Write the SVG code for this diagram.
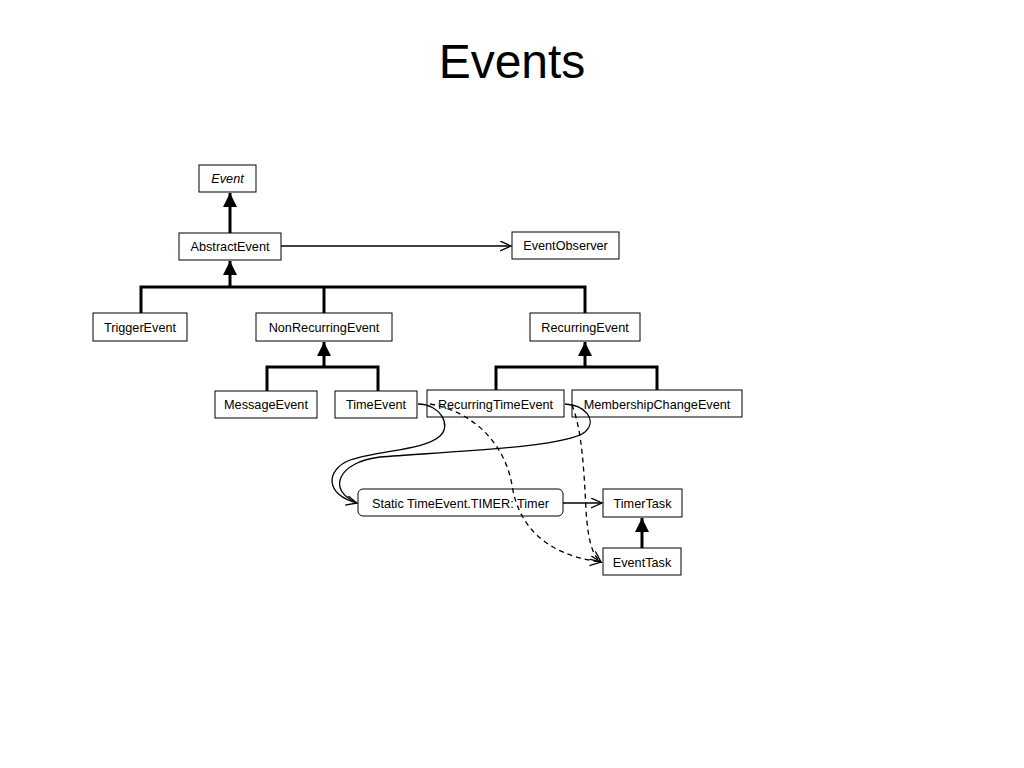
<svg xmlns="http://www.w3.org/2000/svg" width="1024" height="768" viewBox="0 0 1024 768">
<defs>
<style>
.box{fill:#fff;stroke:#000;stroke-width:1}
.lbl{font-family:"Liberation Sans",Arial,sans-serif;font-size:12.7px;fill:#000;text-anchor:middle}
.inh{fill:none;stroke:#000;stroke-width:3}
.assoc{fill:none;stroke:#000;stroke-width:1.3}
.dash{fill:none;stroke:#000;stroke-width:1.3;stroke-dasharray:5,4}
</style>
<marker id="tri" markerUnits="userSpaceOnUse" markerWidth="16" markerHeight="16" refX="14" refY="7" orient="auto">
<path d="M0,0 L14,7 L0,14 z" fill="#000"/>
</marker>
<marker id="open" markerUnits="userSpaceOnUse" markerWidth="14" markerHeight="12" refX="11" refY="5" orient="auto">
<path d="M0,0 L11,5 L0,10" fill="none" stroke="#000" stroke-width="1.3"/>
</marker>
</defs>
<rect width="1024" height="768" fill="#fff"/>
<text x="512" y="78" font-family="'Liberation Sans',Arial,sans-serif" font-size="48" text-anchor="middle">Events</text>

<g id="Event"><rect class="box" x="199" y="165" width="57" height="27"/><text class="lbl" x="227.5" y="183" font-style="italic">Event</text></g>
<g id="AbstractEvent"><rect class="box" x="179" y="233" width="102" height="27"/><text class="lbl" x="230" y="251">AbstractEvent</text></g>
<g id="EventObserver"><rect class="box" x="512" y="232" width="107" height="27"/><text class="lbl" x="565.5" y="250">EventObserver</text></g>
<g id="TriggerEvent"><rect class="box" x="93" y="313" width="94" height="28"/><text class="lbl" x="140" y="332">TriggerEvent</text></g>
<g id="NonRecurringEvent"><rect class="box" x="256" y="313" width="136" height="28"/><text class="lbl" x="324" y="332">NonRecurringEvent</text></g>
<g id="RecurringEvent"><rect class="box" x="530" y="313" width="110" height="28"/><text class="lbl" x="585" y="332">RecurringEvent</text></g>
<g id="MessageEvent"><rect class="box" x="215" y="391" width="102" height="27"/><text class="lbl" x="266" y="409">MessageEvent</text></g>
<g id="TimeEvent"><rect class="box" x="335" y="391" width="82" height="27"/><text class="lbl" x="376" y="409">TimeEvent</text></g>
<g id="RecurringTimeEvent"><rect class="box" x="427" y="390" width="137" height="27"/><text class="lbl" x="495.5" y="409">RecurringTimeEvent</text></g>
<g id="MembershipChangeEvent"><rect class="box" x="572" y="390" width="170" height="27"/><text class="lbl" x="657" y="409">MembershipChangeEvent</text></g>
<g id="Timer"><rect class="box" x="358" y="489" width="205" height="27" rx="5" ry="5"/><text class="lbl" x="460.5" y="508">Static TimeEvent.TIMER: Timer</text></g>
<g id="TimerTask"><rect class="box" x="603" y="489" width="79" height="28"/><text class="lbl" x="642.5" y="508">TimerTask</text></g>
<g id="EventTask"><rect class="box" x="603" y="548" width="78" height="27"/><text class="lbl" x="642" y="567">EventTask</text></g>

<g id="connectors">
<path class="inh" d="M230,233 V193" marker-end="url(#tri)"/>
<path class="assoc" d="M281,246 H511" marker-end="url(#open)"/>
<path class="inh" d="M141,313 V287 H585 V313 M324,313 V287"/>
<path class="inh" d="M230,287 V261" marker-end="url(#tri)"/>
<path class="inh" d="M267,391 V367 H378 V391"/>
<path class="inh" d="M324,367 V342" marker-end="url(#tri)"/>
<path class="inh" d="M496,390 V367 H657 V390"/>
<path class="inh" d="M585,367 V342" marker-end="url(#tri)"/>
<path class="inh" d="M642,548 V518" marker-end="url(#tri)"/>
<path class="assoc" d="M563,503 H602" marker-end="url(#open)"/>
<path class="assoc" d="M418,404 C440,404 452,425 440,436 C425,450 380,450 350,460 C325,470 325,495 357,503" marker-end="url(#open)"/>
<path class="assoc" d="M565,404 C585,405 598,420 585,432 C565,448 440,452 380,457 C338,462 326,490 357,503"/>
<path class="dash" d="M430,404 C475,412 505,445 512,485 C518,525 545,555 601,562" marker-end="url(#open)"/>
<path class="dash" d="M572,405 C582,430 584,470 586,510 C588,540 592,555 601,562" marker-end="url(#open)"/>
</g>
</svg>
